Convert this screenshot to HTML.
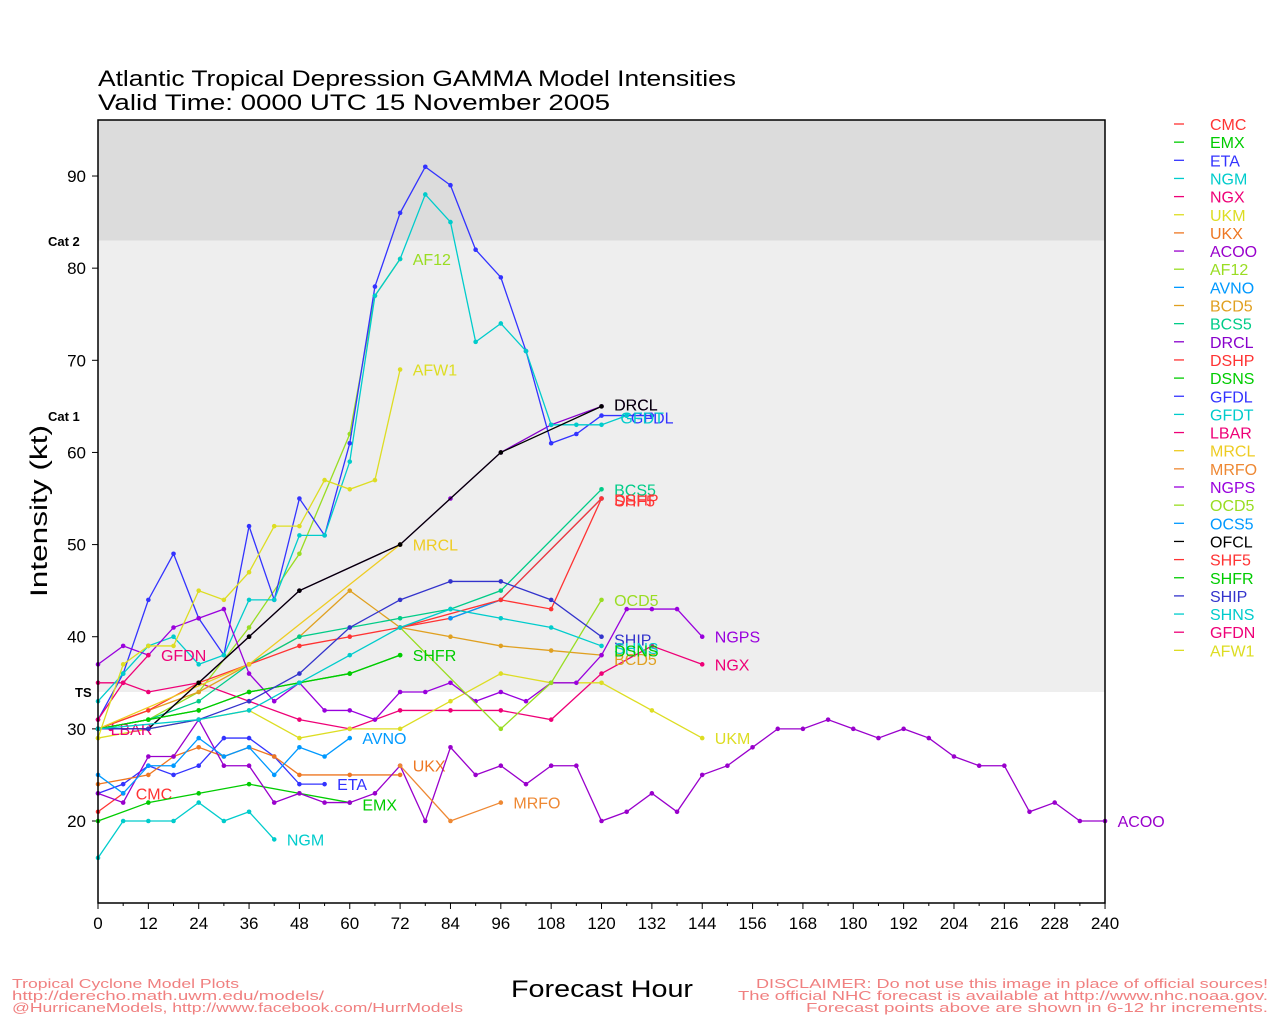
<!DOCTYPE html>
<html><head><meta charset="utf-8"><style>
body{margin:0;background:#fff;width:1280px;height:1024px;overflow:hidden}
svg{display:block;font-family:"Liberation Sans",sans-serif}
</style></head><body>
<svg id="s" width="1280" height="1024" xmlns="http://www.w3.org/2000/svg">
<rect x="98" y="120" width="1007" height="783" fill="#fff"/>
<rect x="98" y="120" width="1007" height="120.5" fill="#dcdcdc"/>
<rect x="98" y="240.5" width="1007" height="451.5" fill="#eeeeee"/>
<text x="98" y="86" font-size="22" textLength="638" lengthAdjust="spacingAndGlyphs">Atlantic Tropical Depression GAMMA Model Intensities</text>
<text x="98" y="110" font-size="22" textLength="512" lengthAdjust="spacingAndGlyphs">Valid Time: 0000 UTC 15 November 2005</text>
<text x="48" y="246" font-size="13" font-weight="bold">Cat 2</text>
<text x="48" y="421" font-size="13" font-weight="bold">Cat 1</text>
<text x="75" y="697" font-size="13" font-weight="bold">TS</text>
<text transform="translate(47,511) rotate(-90)" font-size="24" text-anchor="middle" textLength="172" lengthAdjust="spacingAndGlyphs">Intensity (kt)</text>
<text x="511" y="997" font-size="24" textLength="182" lengthAdjust="spacingAndGlyphs">Forecast Hour</text>
<text x="12" y="988" font-size="13" fill="#f08080" textLength="227" lengthAdjust="spacingAndGlyphs">Tropical Cyclone Model Plots</text>
<text x="12" y="1000" font-size="13" fill="#f08080" textLength="312" lengthAdjust="spacingAndGlyphs">http://derecho.math.uwm.edu/models/</text>
<text x="12" y="1012" font-size="13" fill="#f08080" textLength="451" lengthAdjust="spacingAndGlyphs">@HurricaneModels, http://www.facebook.com/HurrModels</text>
<text x="756" y="988" font-size="13" fill="#f08080" textLength="512" lengthAdjust="spacingAndGlyphs">DISCLAIMER: Do not use this image in place of official sources!</text>
<text x="738" y="1000" font-size="13" fill="#f08080" textLength="530" lengthAdjust="spacingAndGlyphs">The official NHC forecast is available at http://www.nhc.noaa.gov.</text>
<text x="806" y="1012" font-size="13" fill="#f08080" textLength="462" lengthAdjust="spacingAndGlyphs">Forecast points above are shown in 6-12 hr increments.</text>
<g id="g"></g>
<rect x="98" y="120" width="1007" height="783" fill="none" stroke="#000" stroke-width="1.5"/>
</svg>
<script>
var g=document.getElementById('g'),NS="http://www.w3.org/2000/svg";
function X(h){return 98+h*4.196}function Y(v){return 821-(v-20)*9.214}
function el(t,a,txt){var e=document.createElementNS(NS,t);for(var k in a)e.setAttribute(k,a[k]);if(txt)e.textContent=txt;g.appendChild(e);return e}
for(var h=0;h<=240;h+=12){el('line',{x1:X(h),x2:X(h),y1:903,y2:909,stroke:'#000'});el('text',{x:X(h),y:929,'font-size':17,'text-anchor':'middle'},String(h));}
for(var h=6;h<240;h+=12)el('line',{x1:X(h),x2:X(h),y1:903,y2:906,stroke:'#000'});
for(var v=20;v<=90;v+=10){el('line',{x1:92,x2:98,y1:Y(v),y2:Y(v),stroke:'#000'});el('text',{x:86,y:Y(v)+6,'font-size':17,'text-anchor':'end'},String(v));}
function s(c,d,lab,lv,lh){var p=[];for(var i=0;i<d.length;i+=2)p.push(X(d[i])+','+Y(d[i+1]));
el('polyline',{points:p.join(' '),fill:'none',stroke:c,'stroke-width':1.3});
for(var i=0;i<d.length;i+=2)el('circle',{cx:X(d[i]),cy:Y(d[i+1]),r:2.3,fill:c});
if(lab){var n=d.length;var hh=lh!==undefined?lh:d[n-2]+3;var vv=lv!==undefined?lv:d[n-1];el('text',{x:X(hh),y:Y(vv)+6,'font-size':16,fill:c},lab);}}
var L=[];
function S(name,c,d,lab,lv,lh){L.push([name,c]);s(c,d,lab===null?null:name,lv,lh);}
S('CMC','#ff3333',[0,21,6,23],null);el('text',{x:X(9),y:Y(23)+6,'font-size':16,fill:'#ff3333'},'CMC');
S('EMX','#00cc00',[0,20,12,22,24,23,36,24,48,23,60,22],undefined,21.8);
S('ETA','#3333ff',[0,23,6,24,12,26,18,25,24,26,30,29,36,29,42,27,48,24,54,24],undefined,24);
S('NGM','#00cccc',[0,16,6,20,12,20,18,20,24,22,30,20,36,21,42,18],undefined,18);
S('NGX','#ee0077',[0,35,6,35,12,34,24,35,36,33,48,31,60,30,72,32,84,32,96,32,108,31,120,36,132,39,144,37]);
S('UKM','#dddd22',[0,29,12,30,24,31,36,32,48,29,60,30,72,30,84,33,96,36,108,35,120,35,132,32,144,29]);
S('UKX','#ee7722',[0,24,12,25,18,27,24,28,30,27,36,28,42,27,48,25,60,25,72,25],undefined,26);
S('ACOO','#9900cc',[0,23,6,22,12,27,18,27,24,31,30,26,36,26,42,22,48,23,54,22,60,22,66,23,72,26,78,20,84,28,90,25,96,26,102,24,108,26,114,26,120,20,126,21,132,23,138,21,144,25,150,26,156,28,162,30,168,30,174,31,180,30,186,29,192,30,198,29,204,27,210,26,216,26,222,21,228,22,234,20,240,20]);
S('AF12','#99dd22',[0,30,12,31,24,34,36,41,48,49,60,62,66,77,72,81]);
S('AVNO','#0099ff',[0,25,6,23,12,26,18,26,24,29,30,27,36,28,42,25,48,28,54,27,60,29]);
S('BCD5','#e0a020',[0,30,24,34,36,37,48,40,60,45,72,41,84,40,96,39,108,38.5,120,38],undefined,37.6);
S('BCS5','#00cc88',[0,30,12,31,24,33,36,37,48,40,60,41,72,42,84,43,96,45,120,56]);
S('DRCL','#8800cc',[0,30,12,30,24,35,36,40,48,45,72,50,84,55,96,60,108,63,120,65],undefined,65.2);
S('DSHP','#ff3333',[0,30,12,32,24,35,36,37,48,39,60,40,72,41,84,42,96,44,108,43,120,55],null);
S('DSNS','#00cc00',[0,30,12,31,24,32,36,34,48,35,60,36,72,38],null);
S('GFDL','#3333ff',[0,31,6,36,12,44,18,49,24,42,30,38,36,52,42,44,48,55,54,51,60,61,66,78,72,86,78,91,84,89,90,82,96,79,102,71,108,61,114,62,120,64,126,64,132,64],'GFDL',63.8,127);
S('GFDT','#00cccc',[0,33,6,36,12,39,18,40,24,37,30,38,36,44,42,44,48,51,54,51,60,59,66,77,72,81,78,88,84,85,90,72,96,74,102,71,108,63,114,63,120,63,126,64],'GFDT',63.8,124.5);
S('LBAR','#ee0077',[0,30,3,30],undefined,30,3);
S('MRCL','#eecc22',[0,30,36,37,72,50]);
S('MRFO','#ee8833',[72,26,84,20,96,22]);
S('NGPS','#9900dd',[0,37,6,39,12,38,18,41,24,42,30,43,36,36,42,33,48,35,54,32,60,32,66,31,72,34,78,34,84,35,90,33,96,34,102,33,108,35,114,35,120,38,126,43,132,43,138,43,144,40]);
S('OCD5','#99dd22',[72,41,96,30,108,35,120,44]);
S('OCS5','#0099ff',[84,42,96,44,120,55],null);
S('OFCL','#000000',[0,30,12,30,24,35,36,40,48,45,72,50,96,60,120,65],null);
S('SHF5','#ff3333',[72,41,96,44,120,55],'SHF5',54.8);
S('SHFR','#00cc00',[0,30,12,31,24,32,36,34,48,35,60,36,72,38]);
S('SHIP','#3333cc',[0,30,12,30,24,31,36,33,48,36,60,41,72,44,84,46,96,46,108,44,120,40],undefined,39.7);
S('SHNS','#00cccc',[0,30,24,31,36,32,48,35,60,38,72,41,84,43,96,42,108,41,120,39],undefined,38.8);
S('GFDN','#ee0077',[0,31,6,35,12,38],undefined,38);
S('AFW1','#dddd22',[0,29,6,37,12,39,18,39,24,45,30,44,36,47,42,52,48,52,54,57,60,56,66,57,72,69]);
el('text',{x:X(123),y:Y(65.2)+6,'font-size':16,fill:'#000'},'DRCL');
el('text',{x:X(123),y:Y(54.9)+6,'font-size':16,fill:'#ff3333'},'DSHP');
el('text',{x:X(123),y:Y(38.5)+6,'font-size':16,fill:'#00cc00'},'DSNS');
L.forEach(function(e,i){var y=124+i*18.15;el('line',{x1:1174,x2:1184,y1:y,y2:y,stroke:e[1],'stroke-width':1.3});el('text',{x:1210,y:y+6,'font-size':16,fill:e[1]},e[0]);});
</script>
</body></html>
